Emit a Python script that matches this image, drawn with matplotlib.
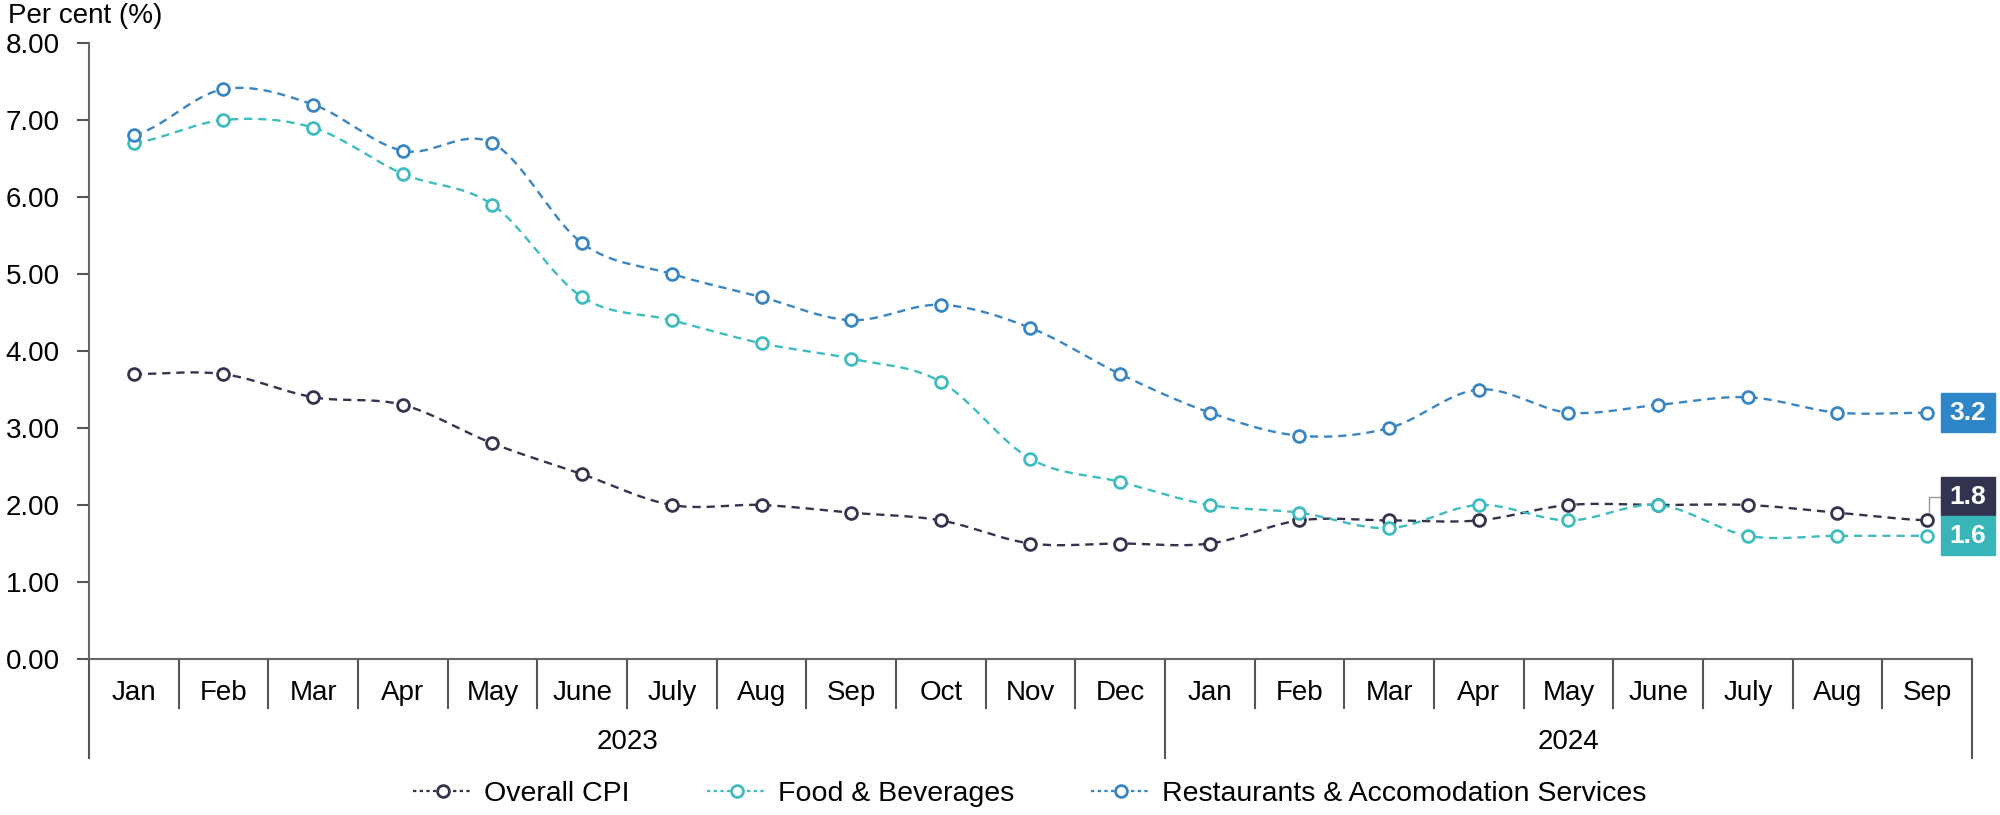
import numpy as np
import matplotlib
matplotlib.use("Agg")
import matplotlib.pyplot as plt
from matplotlib.patches import Rectangle

plt.rcParams['font.family'] = ['Liberation Sans', 'DejaVu Sans']

months = ['Jan', 'Feb', 'Mar', 'Apr', 'May', 'June', 'July', 'Aug', 'Sep', 'Oct', 'Nov', 'Dec',
          'Jan', 'Feb', 'Mar', 'Apr', 'May', 'June', 'July', 'Aug', 'Sep']
years = ['2023', '2024']
year_counts = [12, 9]

cpi = [3.7, 3.7, 3.4, 3.3, 2.8, 2.4, 2.0, 2.0, 1.9, 1.8, 1.5, 1.5,
       1.5, 1.8, 1.8, 1.8, 2.0, 2.0, 2.0, 1.9, 1.8]
food = [6.7, 7.0, 6.9, 6.3, 5.9, 4.7, 4.4, 4.1, 3.9, 3.6, 2.6, 2.3,
        2.0, 1.9, 1.7, 2.0, 1.8, 2.0, 1.6, 1.6, 1.6]
rest = [6.8, 7.4, 7.2, 6.6, 6.7, 5.4, 5.0, 4.7, 4.4, 4.6, 4.3, 3.7,
        3.2, 2.9, 3.0, 3.5, 3.2, 3.3, 3.4, 3.2, 3.2]

names = ['Overall CPI', 'Food & Beverages', 'Restaurants & Accomodation Services']
line_cols = ['#34344e', '#3fbcbf', '#3a86c2']
box_cols = ['#32334e', '#38b5b8', '#2d86c7']

FS = 20


def smooth(y, n=20):
    # catmull-rom, like excel's smoothed line
    y = np.asarray(y, float)
    p = np.concatenate([[y[0]], y, [y[-1]]])
    xs, ys = [], []
    t = np.linspace(0, 1, n, endpoint=False)
    for i in range(len(y) - 1):
        p0, p1, p2, p3 = p[i], p[i + 1], p[i + 2], p[i + 3]
        yy = 0.5 * (2 * p1 + (-p0 + p2) * t + (2 * p0 - 5 * p1 + 4 * p2 - p3) * t ** 2
                    + (-p0 + 3 * p1 - 3 * p2 + p3) * t ** 3)
        xs.append(i + t)
        ys.append(yy)
    xs.append([len(y) - 1])
    ys.append([y[-1]])
    return np.concatenate(xs), np.concatenate(ys)


fig = plt.figure(figsize=(20, 8.15), dpi=100)
ax = fig.add_axes([89 / 2000, 1 - 659 / 815, (1972 - 89) / 2000, (659 - 43) / 815])

x = np.arange(len(months))
for vals, name, c in zip([cpi, food, rest], names, line_cols):
    sx, sy = smooth(vals)
    ax.plot(sx, sy, color=c, lw=1.7, ls=(0, (3.5, 2.5)), zorder=2)
    ax.plot(x, vals, ls='none', marker='o', ms=8.5, mfc='white', mec=c, mew=2, zorder=3)
    # legend handle
    ax.plot([], [], color=c, lw=1.6, ls=(0, (1.5, 1.5)), marker='o', ms=8.5, mfc='white',
            mec=c, mew=2, label=name)

ax.set_xlim(-0.5, len(months) - 0.5)
ax.set_ylim(0, 8)
ax.set_yticks(np.arange(0, 9, 1))
ax.set_yticklabels(['%.2f' % v for v in np.arange(0, 9, 1)])
ax.tick_params(axis='y', labelsize=FS, length=9, width=1.5, color='#555555', pad=12)
ax.set_xticks(x)
ax.set_xticklabels(months)
ax.tick_params(axis='x', labelsize=FS, length=0, pad=15)
for s in ['top', 'right']:
    ax.spines[s].set_visible(False)
for s in ['left', 'bottom']:
    ax.spines[s].set_color('#666666')
    ax.spines[s].set_linewidth(1.5)

# category separators
h = 659 - 43
tr = ax.get_xaxis_transform()
edges = [0]
for n in year_counts:
    edges.append(edges[-1] + n)
for i in range(len(months) + 1):
    depth = -99 / h if i in edges else -49 / h
    ax.plot([i - 0.5, i - 0.5], [0, depth], transform=tr, color='#555555', lw=1.5,
            clip_on=False, zorder=1)
for i, yr in enumerate(years):
    mid = (edges[i] + edges[i + 1] - 1) / 2
    ax.text(mid, -(742 - 659) / h, yr, transform=tr, ha='center', va='center', fontsize=FS)

fig.text(8 / 2000, 1 - 16 / 815, 'Per cent (%)', ha='left', va='center', fontsize=FS)

# end labels
box_y = [cpi[-1] + 0.31, food[-1], rest[-1]]
bw, bh = 54 / 89.67, 39 / 77
bx = 20.15
for vals, yc, c in zip([cpi, food, rest], box_y, box_cols):
    ax.add_patch(Rectangle((bx, yc - bh / 2), bw, bh, color=c, clip_on=False, zorder=4))
    ax.text(bx + bw / 2, yc, '%.1f' % vals[-1], color='white', fontsize=19, fontweight='bold',
            ha='center', va='center', zorder=5, clip_on=False)
ax.plot([20.02, 20.02, bx], [cpi[-1] + 0.07, box_y[0], box_y[0]], color='#999999', lw=1,
        clip_on=False, zorder=1)

ax.legend(loc='center', bbox_to_anchor=(0.515, 1 - 794 / 815), bbox_transform=fig.transFigure,
          ncol=3, frameon=False, fontsize=20.5, handlelength=2.1, handletextpad=0.4,
          columnspacing=2.7, numpoints=1)

fig.savefig('out.png', dpi=100)
